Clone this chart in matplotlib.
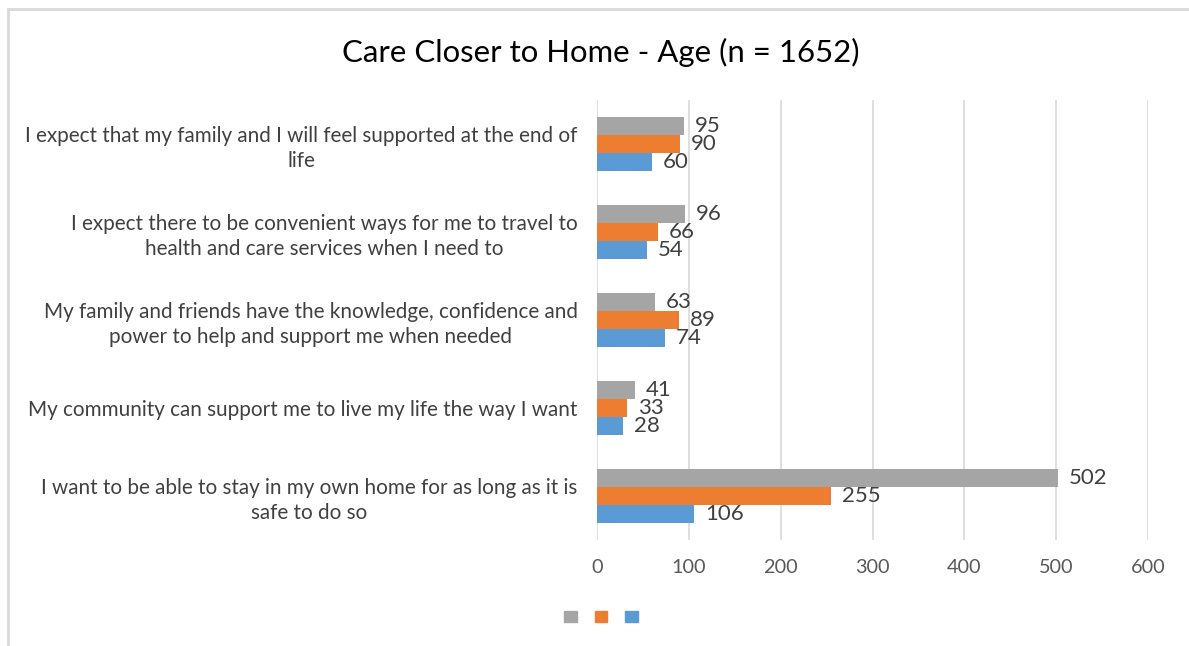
import matplotlib
matplotlib.use("Agg")
import matplotlib.pyplot as plt
import numpy as np
from matplotlib.patches import Rectangle, Patch

categories = [
    "I want to be able to stay in my own home for as long as it is\nsafe to do so",
    "My community can support me to live my life the way I want",
    "My family and friends have the knowledge, confidence and\npower to help and support me when needed",
    "I expect there to be convenient ways for me to travel to\nhealth and care services when I need to",
    "I expect that my family and I will feel supported at the end of\nlife",
]
series_blue = [106, 28, 74, 54, 60]
series_orange = [255, 33, 89, 66, 90]
series_gray = [502, 41, 63, 96, 95]
xticks = [0, 100, 200, 300, 400, 500, 600]
title = "Care Closer to Home - Age (n = 1652)"

colors = {"blue": "#5B9BD5", "orange": "#ED7D31", "gray": "#A5A5A5"}

plt.rcParams['font.family'] = ['Lato', 'DejaVu Sans']

W, H = 1189, 646
fig = plt.figure(figsize=(W/100, H/100), dpi=100)
ax = fig.add_axes([597/W, 1-540/H, (1148-597)/W, 440/H])

y = np.arange(len(categories))
h = 0.205
for vals, off, c in [(series_blue, -h, colors["blue"]),
                     (series_orange, 0, colors["orange"]),
                     (series_gray, h, colors["gray"])]:
    b = ax.barh(y + off, vals, height=h, color=c, zorder=3)
    ax.bar_label(b, padding=8, fontsize=16, color="#404040")

ax.set_xlim(0, 600)
ax.set_ylim(-0.5, len(categories) - 0.5)
ax.set_xticks(xticks)
ax.set_xticklabels([str(t) for t in xticks], fontsize=14.3, color="#595959")
ax.set_yticks(y)
ax.set_yticklabels(categories, fontsize=14.9, color="#404040",
                   multialignment="center", linespacing=1.3)
ax.tick_params(axis="both", length=0)
ax.tick_params(axis="x", pad=14)
ax.tick_params(axis="y", pad=14)
for s in ax.spines.values():
    s.set_visible(False)
ax.grid(axis="x", color="#D9D9D9", linewidth=1.2, zorder=0)

fig.text(601/W, 1-52/H, title, ha="center", va="center", fontsize=22.4, color="#000000")

handles = [Patch(color=colors["gray"]), Patch(color=colors["orange"]), Patch(color=colors["blue"])]
fig.legend(handles, ["", "", ""], loc="center", bbox_to_anchor=(601/W, 1-617/H),
           ncol=3, frameon=False, handlelength=0.9, handleheight=0.9,
           handletextpad=0.0, columnspacing=1.3)

fig.patches.append(Rectangle((8/W, -0.01), 1.05, 1-9/H+0.01, transform=fig.transFigure,
                             fill=False, edgecolor="#D9D9D9", linewidth=2))

fig.savefig("out.png", dpi=100)
